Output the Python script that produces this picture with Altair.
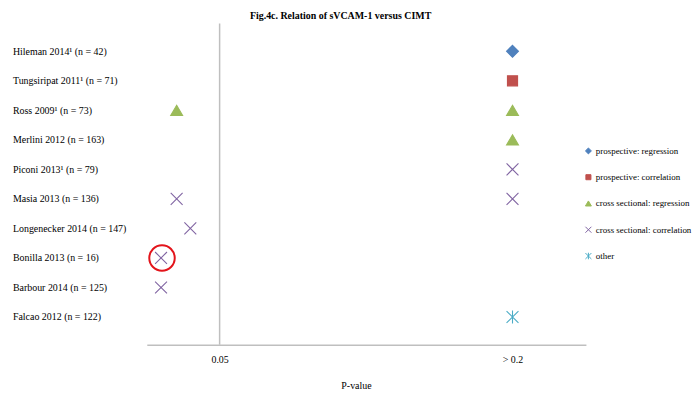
import altair as alt
import pandas as pd

studies = [
    "Hileman 2014¹ (n = 42)",
    "Tungsiripat 2011¹ (n = 71)",
    "Ross 2009¹ (n = 73)",
    "Merlini 2012 (n = 163)",
    "Piconi 2013¹ (n = 79)",
    "Masia 2013 (n = 136)",
    "Longenecker 2014 (n = 147)",
    "Bonilla 2013 (n = 16)",
    "Barbour 2014 (n =  125)",
    "Falcao 2012 (n = 122)",
]

types = [
    "prospective: regression",
    "prospective: correlation",
    "cross sectional: regression",
    "cross sectional: correlation",
    "other",
]
colors = ["#4F81BD", "#C0504D", "#9BBB59", "#8064A2", "#4BACC6"]
shapes = [
    "M0,-1L1,0L0,1L-1,0Z",
    "M-0.85,-0.85L0.85,-0.85L0.85,0.85L-0.85,0.85Z",
    "M0,-0.85L1,0.85L-1,0.85Z",
    "M-1,-1L1,1M-1,1L1,-1",
    "M-1,-1L1,1M-1,1L1,-1M0,-1.1L0,1.1",
]

# points: study, p-value position, type
pt_study = [
    "Hileman 2014¹ (n = 42)",
    "Tungsiripat 2011¹ (n = 71)",
    "Ross 2009¹ (n = 73)",
    "Ross 2009¹ (n = 73)",
    "Merlini 2012 (n = 163)",
    "Piconi 2013¹ (n = 79)",
    "Masia 2013 (n = 136)",
    "Masia 2013 (n = 136)",
    "Longenecker 2014 (n = 147)",
    "Bonilla 2013 (n = 16)",
    "Barbour 2014 (n =  125)",
    "Falcao 2012 (n = 122)",
]
pt_p = [0.2, 0.2, 0.028, 0.2, 0.2, 0.2, 0.028, 0.2, 0.035, 0.02, 0.02, 0.2]
pt_type = [
    "prospective: regression",
    "prospective: correlation",
    "cross sectional: regression",
    "cross sectional: regression",
    "cross sectional: regression",
    "cross sectional: correlation",
    "cross sectional: correlation",
    "cross sectional: correlation",
    "cross sectional: correlation",
    "cross sectional: correlation",
    "cross sectional: correlation",
    "other",
]

highlight_study = ["Bonilla 2013 (n = 16)"]
highlight_p = [0.0205]

tick_values = [0.05, 0.2]
tick_labels = ["0.05", "> 0.2"]
ref_line = [0.05]

x_domain = [0.0127, 0.2376]

df = pd.DataFrame({"study": pt_study, "p": pt_p, "type": pt_type})
hl = pd.DataFrame({"study": highlight_study, "p": highlight_p})
ref = pd.DataFrame({"p": ref_line})

FONT = "Liberation Serif"
label_expr = " : ".join(
    [f"datum.value == {v} ? '{l}'" for v, l in zip(tick_values[:-1], tick_labels[:-1])]
    + [f"'{tick_labels[-1]}'"]
)

xscale = alt.Scale(domain=x_domain, nice=False, zero=False)
yscale = alt.Scale(type="point", domain=studies, padding=0.94)

xaxis = alt.Axis(
    values=tick_values,
    labelExpr=label_expr,
    grid=False,
    ticks=False,
    domainColor="#BFBFBF",
    domainWidth=1.5,
    labelFont=FONT,
    labelFontSize=10,
    labelColor="#000000",
    labelPadding=10,
    title="P-value",
    titleFont=FONT,
    titleFontSize=10,
    titleFontWeight="normal",
    titleColor="#000000",
    titleX=211,
    titleY=41,
    titleAlign="center",
    titleBaseline="middle",
)
yaxis = alt.Axis(
    title=None,
    domain=False,
    ticks=False,
    tickSize=0,
    grid=False,
    labelAlign="left",
    labelPadding=135.5,
    labelFont=FONT,
    labelFontSize=10,
    labelColor="#000000",
)

legend = alt.Legend(
    title=None,
    orient="none",
    legendX=441,
    legendY=124,
    padding=0,
    symbolSize=36,
    symbolStrokeWidth=1,
    labelFont=FONT,
    labelFontSize=9,
    labelColor="#000000",
    labelOffset=3,
    rowPadding=15.5,
)

rule = alt.Chart(ref).mark_rule(color="#BFBFBF", strokeWidth=1.5).encode(
    x=alt.X("p:Q", scale=xscale, axis=xaxis)
)

points = alt.Chart(df).mark_point(size=144, opacity=1, strokeWidth=1.1).encode(
    x=alt.X("p:Q", scale=xscale, axis=xaxis),
    y=alt.Y("study:N", scale=yscale, axis=yaxis, sort=studies),
    shape=alt.Shape("type:N", scale=alt.Scale(domain=types, range=shapes), legend=legend),
    fill=alt.Fill("type:N", scale=alt.Scale(domain=types, range=colors), legend=legend),
    stroke=alt.Stroke("type:N", scale=alt.Scale(domain=types, range=colors), legend=legend),
)

circle = alt.Chart(hl).mark_point(
    shape="circle", size=660, filled=False, color="#E3141B", strokeWidth=2, opacity=1
).encode(
    x=alt.X("p:Q", scale=xscale),
    y=alt.Y("study:N", scale=yscale, sort=studies),
)

chart = (
    alt.layer(rule, points, circle)
    .properties(
        width=443,
        height=324,
        padding={"left": 4, "top": 1, "right": 0, "bottom": 0},
        title=alt.TitleParams(
            "Fig.4c. Relation of sVCAM-1 versus CIMT",
            font=FONT,
            fontSize=10,
            fontWeight="bold",
            color="#000000",
            anchor="middle",
            dx=-26,
            offset=2,
        ),
    )
    .configure_view(stroke=None)
)

chart.save("out.html", embed_options={"renderer": "svg", "actions": False})
